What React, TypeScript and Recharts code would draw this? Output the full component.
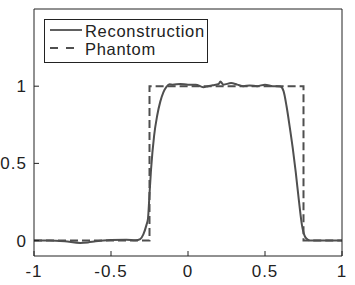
import { LineChart, Line, XAxis, YAxis } from "recharts";

const xTicks = [-1, -0.5, 0, 0.5, 1];
const yTicks = [0, 0.5, 1];

const reconX = [
  -1, -0.9, -0.8, -0.7, -0.65, -0.6, -0.5, -0.4, -0.34, -0.31, -0.29, -0.27, -0.26, -0.25,
  -0.24, -0.22, -0.2, -0.18, -0.16, -0.14, -0.12, -0.1, -0.05, 0, 0.05, 0.1, 0.13, 0.16,
  0.2, 0.21, 0.23, 0.28, 0.32, 0.36, 0.4, 0.45, 0.5, 0.55, 0.6, 0.62, 0.64, 0.66, 0.68,
  0.7, 0.72, 0.74, 0.76, 0.78, 0.8, 0.9, 1,
];
const reconY = [
  0, 0, -0.005, -0.015, -0.012, -0.005, 0.003, 0.005, 0.002, 0.01, 0.04, 0.1, 0.14, 0.3,
  0.46, 0.68, 0.81, 0.9, 0.96, 0.995, 1.012, 1.01, 1.014, 1.01, 1.01, 0.993, 1.0, 1.006,
  1.015, 1.03, 1.01, 1.02, 1.01, 1.0, 1.005, 1.0, 1.01, 1.0, 0.998, 0.97, 0.87, 0.74, 0.6,
  0.44, 0.26, 0.1, 0.025, 0.005, 0, 0, 0,
];

const phantomX = [-1, -0.25, -0.25, 0.75, 0.75, 1];
const phantomY = [0, 0, 1, 1, 0, 0];

const recon = reconX.map((x, i) => ({ x, y: reconY[i] }));
const phantom = phantomX.map((x, i) => ({ x, y: phantomY[i] }));

const font = "'Liberation Sans', Arial, Helvetica, sans-serif";
const ink = "#222";
const lineColor = "#4f4f4f";
const TICK = 5;

// MATLAB-style ticks point into the plot box
function BottomTick({ x, y, payload }: any) {
  return (
    <g>
      <line x1={x} x2={x} y1={y} y2={y - TICK} stroke={ink} />
      <text x={x} y={y + 21} textAnchor="middle" fontSize={17} letterSpacing={1} fill={ink} fontFamily={font}>
        {payload.value}
      </text>
    </g>
  );
}

function LeftTick({ x, y, payload }: any) {
  return (
    <g>
      <line x1={x} x2={x + TICK} y1={y} y2={y} stroke={ink} />
      <text x={x - 7} y={y} dy="0.35em" textAnchor="end" fontSize={17} letterSpacing={1} fill={ink} fontFamily={font}>
        {payload.value}
      </text>
    </g>
  );
}

function TopTick({ x, y }: any) {
  return <line x1={x} x2={x} y1={y} y2={y + TICK} stroke={ink} />;
}

function RightTick({ x, y }: any) {
  return <line x1={x} x2={x - TICK} y1={y} y2={y} stroke={ink} />;
}

export default function App() {
  return (
    <div style={{ position: "absolute", left: 0, top: 0, width: 355, height: 285, background: "#fff" }}>
      <LineChart width={355} height={285} margin={{ top: 8, right: 12, left: 0, bottom: 0 }}>
        <XAxis
          xAxisId="b"
          type="number"
          dataKey="x"
          domain={[-1, 1]}
          ticks={xTicks}
          interval={0}
          height={29}
          tickSize={0}
          tickMargin={0}
          tickLine={false}
          tick={<BottomTick />}
          stroke={ink}
        />
        <XAxis
          xAxisId="t"
          orientation="top"
          type="number"
          dataKey="x"
          domain={[-1, 1]}
          ticks={xTicks}
          interval={0}
          height={1}
          tickSize={0}
          tickMargin={0}
          tickLine={false}
          tick={<TopTick />}
          stroke={ink}
        />
        <YAxis
          yAxisId="l"
          type="number"
          domain={[-0.1, 1.5]}
          ticks={yTicks}
          interval={0}
          width={34}
          tickSize={0}
          tickMargin={0}
          tickLine={false}
          tick={<LeftTick />}
          stroke={ink}
        />
        <YAxis
          yAxisId="r"
          orientation="right"
          type="number"
          domain={[-0.1, 1.5]}
          ticks={yTicks}
          interval={0}
          width={1}
          tickSize={0}
          tickMargin={0}
          tickLine={false}
          tick={<RightTick />}
          stroke={ink}
        />
        <Line
          xAxisId="b"
          yAxisId="l"
          data={phantom}
          dataKey="y"
          type="linear"
          stroke={lineColor}
          strokeWidth={2}
          strokeDasharray="8 4"
          dot={false}
          isAnimationActive={false}
        />
        <Line
          xAxisId="b"
          yAxisId="l"
          data={recon}
          dataKey="y"
          type="monotone"
          stroke={lineColor}
          strokeWidth={2}
          dot={false}
          isAnimationActive={false}
        />
      </LineChart>
      {/* legend box */}
      <svg width={355} height={285} style={{ position: "absolute", left: 0, top: 0, pointerEvents: "none" }}>
        <rect x={44.5} y={19.5} width={163} height={43} fill="#fff" stroke={ink} strokeWidth={1} />
        <line x1={50} x2={82} y1={30} y2={30} stroke={lineColor} strokeWidth={1.8} />
        <text x={85} y={36.5} fontSize={16.5} letterSpacing={0.7} fill={ink} fontFamily={font}>
          Reconstruction
        </text>
        <line x1={50} x2={74} y1={48} y2={48} stroke={lineColor} strokeWidth={1.8} strokeDasharray="8 8" />
        <text x={85} y={54.5} fontSize={16.5} letterSpacing={0.7} fill={ink} fontFamily={font}>
          Phantom
        </text>
      </svg>
    </div>
  );
}
